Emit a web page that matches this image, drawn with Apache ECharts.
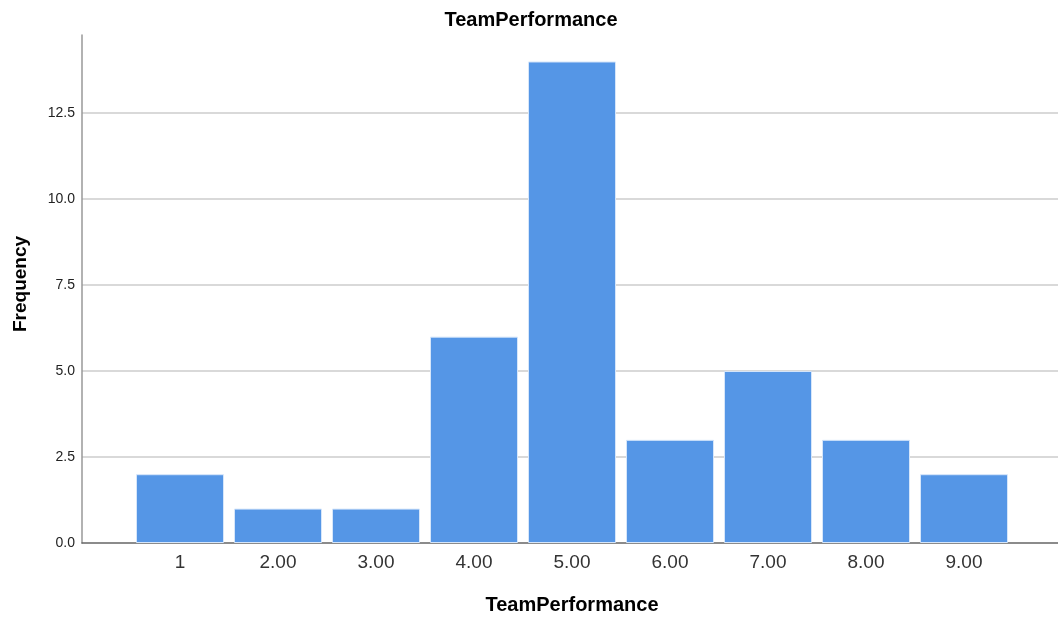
<!DOCTYPE html>
<html><head><meta charset="utf-8">
<script src="https://cdn.jsdelivr.net/npm/echarts@6/dist/echarts.min.js"></script>
<style>html,body{margin:0;padding:0;background:#fff}#c{width:1058px;height:621px}</style>
</head><body><div id="c"></div>
<script>
const categories = ["1","2.00","3.00","4.00","5.00","6.00","7.00","8.00","9.00"];
const positions = [1,2,3,4,5,6,7,8,9];
const frequencies = [2,1,1,6,14,3,5,3,2];
const yTicks = [0,2.5,5,7.5,10,12.5];

const chart = echarts.init(document.getElementById('c'));
const labelMap = {};
positions.forEach((p,i)=>labelMap[p]=categories[i]);
chart.setOption({
  animation:false,
  title:{text:'TeamPerformance',left:526,top:5,textAlign:'center',
    textStyle:{fontFamily:'Liberation Sans, Arial',fontSize:20,fontWeight:'bold',color:'#000'}},
  grid:{left:82,top:35,width:980,height:508,outerBoundsMode:'none',containLabel:false},
  xAxis:{type:'value',min:0,max:10,interval:1,
    name:'TeamPerformance',nameLocation:'middle',nameGap:52,
    nameTextStyle:{fontFamily:'Liberation Sans, Arial',fontSize:20,fontWeight:'bold',color:'#000'},
    axisLine:{show:true,lineStyle:{color:'#666',width:1.5}},
    axisTick:{show:false},
    splitLine:{show:false},
    axisLabel:{margin:10,fontFamily:'Liberation Sans, Arial',fontSize:19,color:'#333',
      formatter:v=>labelMap[v]!==undefined?labelMap[v]:''}},
  yAxis:{type:'value',min:0,max:14.77,interval:2.5,
    name:'Frequency',nameLocation:'middle',nameGap:52,nameRotate:90,
    nameTextStyle:{fontFamily:'Liberation Sans, Arial',fontSize:19,fontWeight:'bold',color:'#000',padding:[0,0,0,10]},
    axisLine:{show:true,lineStyle:{color:'#999',width:1.5}},
    axisTick:{show:false},
    axisLabel:{margin:7,fontFamily:'Liberation Sans, Arial',fontSize:14,color:'#222',showMaxLabel:false,
      formatter:v=>yTicks.includes(v)?v.toFixed(1):''},
    splitLine:{show:true,showMinLine:false,showMaxLine:false,lineStyle:{color:'#ccc',width:1.5}}},
  series:[{type:'bar',barWidth:88,
    data:positions.map((p,i)=>[p,frequencies[i]]),
    itemStyle:{color:'#5596E6',borderColor:'#d6e6fa',borderWidth:1}}]
});
</script></body></html>
